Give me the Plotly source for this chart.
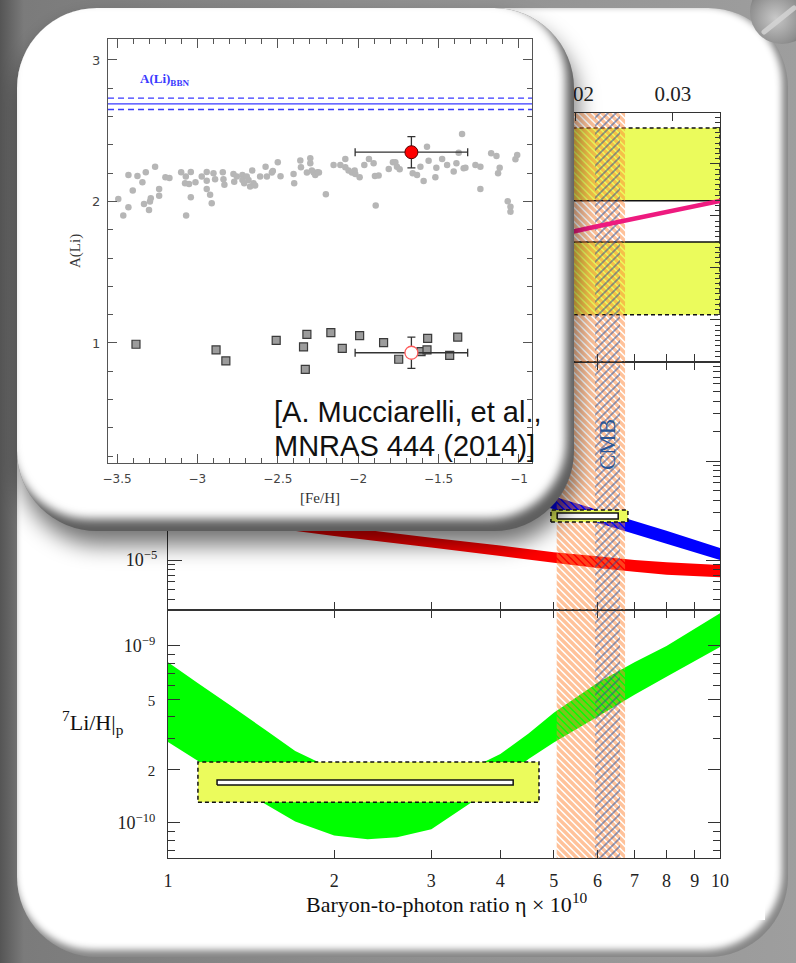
import base64
import plotly.graph_objects as go

# ---------------- BBN predictions versus eta (x 1e10) ----------------
# 7Li/H band (bottom panel)
eta_li = [1.0, 1.13, 1.3, 1.5, 1.7, 2.0, 2.3, 2.6, 3.0, 3.5, 4.0, 4.5, 5.0, 6.0, 7.0, 8.0, 10.0]
li_hi = [8.1e-10, 6.2e-10, 4.6e-10, 3.36e-10, 2.55e-10, 2.0e-10, 1.82e-10, 1.78e-10, 1.82e-10,
         2.0e-10, 2.45e-10, 3.2e-10, 4.2e-10, 6.2e-10, 8.1e-10, 1.0e-9, 1.53e-9]
li_lo = [2.87e-10, 2.25e-10, 1.70e-10, 1.28e-10, 1.02e-10, 8.5e-11, 8.1e-11, 8.3e-11, 9.2e-11,
         1.27e-10, 1.72e-10, 2.3e-10, 2.85e-10, 3.98e-10, 5.3e-10, 6.7e-10, 9.87e-10]

# D/H and 3He/H bands (middle panel), Yp (top panel)
eta_grid = [1, 2, 3, 4, 5, 6, 7, 8, 10]
dh_hi = [6.8e-4, 2.09e-4, 1.05e-4, 6.4e-5, 4.39e-5, 3.22e-5, 2.48e-5, 1.97e-5, 1.32e-5]
dh_lo = [5.0e-4, 1.54e-4, 7.7e-5, 4.74e-5, 3.25e-5, 2.38e-5, 1.83e-5, 1.46e-5, 1.0e-5]
he3_hi = [3.6e-5, 2.2e-5, 1.68e-5, 1.4e-5, 1.2e-5, 1.09e-5, 1.0e-5, 9.5e-6, 8.9e-6]
he3_lo = [2.9e-5, 1.75e-5, 1.34e-5, 1.1e-5, 9.4e-6, 8.3e-6, 7.6e-6, 7.1e-6, 6.7e-6]
yp_pred = [0.2290, 0.2370, 0.2410, 0.2440, 0.2462, 0.2480, 0.2495, 0.2508, 0.2529]

# observed abundances: systematic (yellow) and statistical (white) boxes
yp_box_eta = [1.0, 10.0]
yp_sys = [0.2310, 0.2669]
yp_stat = [0.2450, 0.2529]
dh_box_eta = [4.94, 6.81]
dh_sys = [2.42e-5, 3.20e-5]
dh_stat_eta = [5.07, 6.54]
dh_stat = [2.60e-5, 2.98e-5]
li_box_eta = [1.133, 4.70]
li_sys = [1.31e-10, 2.21e-10]
li_stat_eta = [1.227, 4.22]
li_stat = [1.64e-10, 1.75e-10]

# concordance range and CMB range in eta
bbn_eta = [5.06, 6.73]
cmb_eta = [5.94, 6.59]

# Omega_b h^2 scale on the upper axis
omega_ticks = [0.01, 0.02, 0.03]

# ---------------- inset: A(Li) versus [Fe/H] ----------------
field_feh = [-3.492, -3.461, -3.429, -3.429, -3.402, -3.373, -3.342, -3.332, -3.321, -3.301,
             -3.295, -3.290, -3.263, -3.238, -3.238, -3.199, -3.174, -3.101, -3.072, -3.077,
             -3.070, -3.052, -3.041, -3.041, -3.012, -2.973, -2.942, -2.942, -2.942, -2.921,
             -2.911, -2.900, -2.890, -2.842, -2.838, -2.832, -2.776, -2.771, -2.755, -2.720,
             -2.720, -2.709, -2.693, -2.682, -2.672, -2.659, -2.651, -2.641, -2.610, -2.576,
             -2.568, -2.537, -2.531, -2.500, -2.483, -2.402, -2.398, -2.360, -2.356, -2.319,
             -2.298, -2.298, -2.288, -2.277, -2.267, -2.253, -2.244, -2.201, -2.153, -2.111,
             -2.080, -2.080, -2.060, -2.039, -2.022, -2.018, -1.991, -1.962, -1.933, -1.904,
             -1.896, -1.891, -1.873, -1.810, -1.784, -1.769, -1.759, -1.742, -1.661, -1.634,
             -1.613, -1.593, -1.572, -1.562, -1.520, -1.514, -1.478, -1.447, -1.406, -1.389,
             -1.375, -1.354, -1.344, -1.333, -1.271, -1.240, -1.240, -1.173, -1.140, -1.130,
             -1.120, -1.070, -1.053, -1.053, -1.022, -1.011]
field_ali = [2.018, 1.900, 1.959, 2.187, 2.077, 2.180, 2.135, 1.982, 2.206, 1.940,
             1.999, 2.022, 2.246, 2.088, 2.041, 2.171, 2.166, 2.206, 2.176, 2.128,
             1.900, 2.124, 2.208, 2.029, 2.135, 2.176, 2.208, 2.147, 2.088, 2.048,
             1.987, 2.199, 2.157, 2.206, 2.157, 2.119, 2.194, 2.140, 2.176, 2.187,
             2.152, 2.128, 2.176, 2.152, 2.105, 2.218, 2.128, 2.112, 2.176, 2.246,
             2.176, 2.204, 2.216, 2.277, 2.178, 2.194, 2.128, 2.289, 2.241, 2.204,
             2.305, 2.270, 2.218, 2.204, 2.187, 2.206, 2.204, 2.051, 2.258, 2.258,
             2.300, 2.241, 2.218, 2.204, 2.218, 2.194, 2.171, 2.258, 2.300, 2.270,
             2.180, 1.971, 2.183, 2.230, 2.277, 2.277, 2.246, 2.227, 2.199, 2.187,
             2.246, 2.145, 2.387, 2.288, 2.171, 2.239, 2.300, 2.258, 2.211, 2.270,
             2.345, 2.477, 2.235, 2.239, 2.258, 2.246, 2.088, 2.341, 2.322, 2.199,
             2.239, 2.001, 1.963, 1.928, 2.298, 2.329]
giant_feh = [-3.382, -2.884, -2.823, -2.510, -2.340, -2.319, -2.329, -2.170, -2.099, -1.991,
             -1.842, -1.748, -1.609, -1.572, -1.568, -1.431, -1.381]
giant_ali = [0.991, 0.951, 0.873, 1.019, 0.972, 1.061, 0.814, 1.073, 0.962, 1.052,
             1.002, 0.885, 0.939, 0.951, 1.033, 0.913, 1.042]
cluster_feh = [-1.669]
cluster_feh_err = [0.35]
cluster_dwarf_ali = [2.348]
cluster_giant_ali = [0.931]
cluster_ali_err = [0.11]
ali_bbn = 2.69
ali_bbn_err = 0.04

# ---------------- page geometry (pixels) ----------------
W, H = 796, 963
X0, X1 = 168, 720
Y_TOP, Y_12, Y_23, Y_BOT = 113, 362, 610, 858
IN_L, IN_R, IN_T, IN_B = 108, 532, 39, 463


def xdom(a, b):
    return [a / W, b / W]


def ydom(top, bot):
    return [(H - bot) / H, (H - top) / H]


SERIF = "Liberation Serif, Times New Roman, serif"
SANS = "Liberation Sans, Arial, sans-serif"
ORANGE = "#ff8636"
CMBBLUE = "#1f4c9c"
YELLOW = "#ebfb5c"
# hatch tiles sized to whole pixels (tile edge = size * sqrt(2))
ORANGE_TILE = 7 / 2 ** 0.5
BLUE_TILE = 8 / 2 ** 0.5

fig = go.Figure()


def band(xs, hi, lo):
    return list(xs) + list(xs)[::-1] + [xs[0]], list(hi) + list(lo)[::-1] + [hi[0]]


def rect(xr, yr):
    return [xr[0], xr[1], xr[1], xr[0], xr[0]], [yr[0], yr[0], yr[1], yr[1], yr[0]]


def fill_poly(xs, ys, xa, ya, color, line=None):
    fig.add_trace(go.Scatter(
        x=xs, y=ys, xaxis=xa, yaxis=ya, fill="toself", fillcolor=color,
        mode="lines" if line else "none", line=line or dict(width=0),
        hoverinfo="skip", showlegend=False))


def add_hatches(xa, ya, ylo, yhi):
    bx, by = rect(bbn_eta, [ylo, yhi])
    fig.add_trace(go.Scatter(
        x=bx, y=by, xaxis=xa, yaxis=ya, mode="none", fill="toself",
        fillcolor="rgba(0,0,0,0)",
        fillpattern=dict(shape="\\", fgcolor=ORANGE, bgcolor="rgba(0,0,0,0)",
                         size=ORANGE_TILE, solidity=0.68),
        hoverinfo="skip", showlegend=False))
    cx, cy = rect(cmb_eta, [ylo, yhi])
    fig.add_trace(go.Scatter(
        x=cx, y=cy, xaxis=xa, yaxis=ya, mode="none", fill="toself",
        fillcolor="rgba(0,0,0,0)",
        fillpattern=dict(shape="/", fgcolor=CMBBLUE, bgcolor="rgba(0,0,0,0)",
                         size=BLUE_TILE, solidity=0.3),
        hoverinfo="skip", showlegend=False))


def add_boxes(xa, ya, sys_eta, sys_y, stat_eta, stat_y):
    sx, sy = rect(sys_eta, sys_y)
    fill_poly(sx, sy, xa, ya, YELLOW, dict(color="#111", width=1.5, dash="4px,3px"))
    ix, iy = rect(stat_eta, stat_y)
    fill_poly(ix, iy, xa, ya, "#ffffff", dict(color="#111", width=1.5))


# ---- bottom panel: 7Li/H ----
gx, gy = band(eta_li, li_hi, li_lo)
fill_poly(gx, gy, "x", "y", "#00ff00")
add_hatches("x", "y", 1e-11, 1e-8)
add_boxes("x", "y", li_box_eta, li_sys, li_stat_eta, li_stat)

# ---- middle panel: D/H and 3He/H ----
rx, ry = band(eta_grid, he3_hi, he3_lo)
fill_poly(rx, ry, "x2", "y2", "#ff0000")
bx, by = band(eta_grid, dh_hi, dh_lo)
fill_poly(bx, by, "x2", "y2", "#0000ff")
add_hatches("x2", "y2", 1e-6, 1e-2)
add_boxes("x2", "y2", dh_box_eta, dh_sys, dh_stat_eta, dh_stat)

# ---- top panel: Yp ----
add_boxes("x3", "y3", yp_box_eta, yp_sys, yp_box_eta, yp_stat)
add_hatches("x3", "y3", 0.20, 0.30)
fig.add_trace(go.Scatter(x=eta_grid, y=yp_pred, xaxis="x3", yaxis="y3", mode="lines",
                         line=dict(color="#ee1a7f", width=4.5), hoverinfo="skip", showlegend=False))
fig.add_trace(go.Scatter(x=[], y=[], xaxis="x5", yaxis="y3", showlegend=False))

# ---- inset: lithium in metal-poor stars ----
in_xr = [-3.556, -0.919]
in_yr = [0.152, 3.148]
for val, dash in [(ali_bbn, "solid"), (ali_bbn + ali_bbn_err, "6px,4px"), (ali_bbn - ali_bbn_err, "6px,4px")]:
    fig.add_trace(go.Scatter(x=in_xr, y=[val, val], xaxis="x4", yaxis="y4", mode="lines",
                             line=dict(color="#3a3aff", width=1.3, dash=dash),
                             hoverinfo="skip", showlegend=False))
fig.add_trace(go.Scatter(x=field_feh, y=field_ali, xaxis="x4", yaxis="y4", mode="markers",
                         marker=dict(size=6.5, color="#b6b6b6"), hoverinfo="skip", showlegend=False))
fig.add_trace(go.Scatter(x=giant_feh, y=giant_ali, xaxis="x4", yaxis="y4", mode="markers",
                         marker=dict(symbol="square", size=8, color="#9c9c9c",
                                     line=dict(color="#3a3a3a", width=1.2)),
                         hoverinfo="skip", showlegend=False))
err_style = dict(type="data", thickness=1.3, width=4, color="#333")
fig.add_trace(go.Scatter(x=cluster_feh, y=cluster_dwarf_ali, xaxis="x4", yaxis="y4", mode="markers",
                         error_x=dict(array=cluster_feh_err, **err_style),
                         error_y=dict(array=cluster_ali_err, **err_style),
                         marker=dict(size=13, color="#ff0000", line=dict(color="#550000", width=1)),
                         hoverinfo="skip", showlegend=False))
fig.add_trace(go.Scatter(x=cluster_feh, y=cluster_giant_ali, xaxis="x4", yaxis="y4", mode="markers",
                         error_x=dict(array=cluster_feh_err, **err_style),
                         error_y=dict(array=cluster_ali_err, **err_style),
                         marker=dict(size=13, color="#ffffff", line=dict(color="#ff5a5a", width=1.3)),
                         hoverinfo="skip", showlegend=False))

# ---------------- axes ----------------
ax_line = dict(showgrid=False, zeroline=False, showline=True, linecolor="#333", linewidth=1.3,
               ticks="inside", tickcolor="#333", tickwidth=1.2, automargin=False)
eta_ticks = list(range(1, 11))
xbase = dict(type="log", range=[0, 1], domain=xdom(X0, X1), tickmode="array", tickvals=eta_ticks,
             ticktext=[str(v) for v in eta_ticks], ticklen=8, **ax_line)

small = '<span style="font-size:15px">{}</span>'
li_major = [1e-10, 2e-10, 5e-10, 1e-9]
li_major_text = ["10<sup>−10</sup>", small.format(2), small.format(5), "10<sup>−9</sup>"]
li_minor = [7e-11, 8e-11, 9e-11, 3e-10, 4e-10, 6e-10, 7e-10, 8e-10, 9e-10]
mid_major = [1e-5, 1e-4, 1e-3]
mid_major_text = ["10<sup>−5</sup>", "10<sup>−4</sup>", "10<sup>−3</sup>"]
mid_minor = [m * d for d in (1e-6, 1e-5, 1e-4) for m in range(2, 10)]

yfont = dict(family=SERIF, size=18, color="#222")
inset_ax = dict(showgrid=False, zeroline=False, showline=True, linecolor="#555", linewidth=1.2,
                ticks="inside", tickcolor="#555", tickwidth=1.1, mirror="ticks", automargin=False,
                ticklabelstandoff=4)

fig.update_layout(
    width=W, height=H, autosize=False,
    margin=dict(l=0, r=0, t=0, b=0, pad=0, autoexpand=False),
    paper_bgcolor="#8e8e8e", plot_bgcolor="rgba(0,0,0,0)",
    showlegend=False, hovermode=False,
    xaxis=dict(xbase, anchor="y", mirror="ticks", tickfont=dict(family=SERIF, size=18, color="#222"),
               ticklabelstandoff=6),
    xaxis2=dict(xbase, anchor="y2", mirror="ticks", showticklabels=False),
    xaxis3=dict(xbase, anchor="y3", mirror=False, showticklabels=False),
    xaxis5=dict(type="log", range=[0, 1], overlaying="x3", anchor="y3", side="top",
                tickmode="array", tickvals=[273.9 * w for w in omega_ticks],
                ticktext=[f"{w:.2f}" for w in omega_ticks], ticklen=8,
                tickfont=dict(family=SERIF, size=21, color="#222"), ticklabelstandoff=2, **ax_line),
    yaxis=dict(type="log", range=[-10.198, -8.797], domain=ydom(Y_23, Y_BOT), anchor="x",
               tickmode="array", tickvals=li_major, ticktext=li_major_text, ticklen=12,
               minor=dict(tickmode="array", tickvals=li_minor, ticklen=7, ticks="inside",
                          tickcolor="#333", tickwidth=1.2),
               mirror="ticks", tickfont=yfont, ticklabelstandoff=8, **ax_line),
    yaxis2=dict(type="log", range=[-5.505, -3.0], domain=ydom(Y_12, Y_23), anchor="x2",
                tickmode="array", tickvals=mid_major, ticktext=mid_major_text, ticklen=14,
                minor=dict(tickmode="array", tickvals=mid_minor, ticklen=7, ticks="inside",
                           tickcolor="#333", tickwidth=1.2),
                mirror="ticks", tickfont=yfont, ticklabelstandoff=6, **ax_line),
    yaxis3=dict(range=[0.2219, 0.2698], domain=ydom(Y_TOP, Y_12), anchor="x3",
                tick0=0, dtick=0.01, ticklen=10, showticklabels=False,
                minor=dict(dtick=0.001, ticklen=5, ticks="inside", tickcolor="#333", tickwidth=1),
                mirror="ticks", **ax_line),
    xaxis4=dict(inset_ax, range=in_xr, domain=xdom(IN_L, IN_R), anchor="y4", tick0=0, dtick=0.5,
                ticklen=9,
                minor=dict(dtick=0.1, ticklen=5, ticks="inside", tickcolor="#555", tickwidth=1),
                tickfont=dict(family="DejaVu Sans, sans-serif", size=12, color="#444")),
    yaxis4=dict(inset_ax, range=in_yr, domain=ydom(IN_T, IN_B), anchor="x4", tick0=0, dtick=1,
                ticklen=9,
                minor=dict(dtick=0.2, ticklen=5, ticks="inside", tickcolor="#555", tickwidth=1),
                tickfont=dict(family="DejaVu Sans, sans-serif", size=13, color="#444")),
)

# ---------------- decorative backdrop and inset card ----------------
bg_svg = f'''<svg xmlns="http://www.w3.org/2000/svg" width="{W}" height="{H}" viewBox="0 0 {W} {H}" preserveAspectRatio="none">
<defs>
<linearGradient id="g" x1="0" y1="0" x2="1" y2="0">
<stop offset="0" stop-color="#555555"/><stop offset="0.03" stop-color="#7b7b7b"/>
<stop offset="0.5" stop-color="#8f8f8f"/><stop offset="1" stop-color="#9e9e9e"/></linearGradient>
<radialGradient id="s" cx="0.4" cy="0.6" r="0.7"><stop offset="0" stop-color="#c8c8c8"/>
<stop offset="0.6" stop-color="#8e8e8e"/><stop offset="1" stop-color="#4a4a4a"/></radialGradient>
<filter id="b" x="-5%" y="-5%" width="110%" height="110%"><feGaussianBlur stdDeviation="3.5"/></filter>
<clipPath id="c"><rect x="17" y="8" width="771" height="949" rx="80"/></clipPath>
</defs>
<rect width="{W}" height="{H}" fill="url(#g)"/>
<rect x="17" y="8" width="771" height="949" rx="80" fill="#868686"/>
<g clip-path="url(#c)"><rect x="15" y="6" width="767" height="944" rx="78" fill="#ffffff" filter="url(#b)"/></g>
<rect x="53" y="50" width="712" height="870" fill="#ffffff"/>
<circle cx="782" cy="12" r="32" fill="url(#s)"/>
<path d="M764,32 L794,8" stroke="#d6d6d6" stroke-width="5" stroke-linecap="round" opacity="0.8"/>
</svg>'''

card_w, card_h = 620, 600
card_svg = f'''<svg xmlns="http://www.w3.org/2000/svg" width="{card_w}" height="{card_h}" viewBox="0 0 {card_w} {card_h}" preserveAspectRatio="none">
<defs>
<filter id="sh" x="-10%" y="-10%" width="120%" height="130%"><feGaussianBlur stdDeviation="11"/></filter>
<filter id="b" x="-5%" y="-5%" width="110%" height="110%"><feGaussianBlur stdDeviation="5"/></filter>
<clipPath id="c"><rect x="17" y="8" width="557" height="523" rx="80"/></clipPath>
</defs>
<rect x="20" y="22" width="557" height="523" rx="80" fill="#000" fill-opacity="0.55" filter="url(#sh)"/>
<rect x="17" y="8" width="557" height="523" rx="80" fill="#5e5e5e"/>
<g clip-path="url(#c)"><rect x="11" y="1" width="555" height="518" rx="78" fill="#ffffff" filter="url(#b)"/></g>
</svg>'''


def svg_uri(s):
    return "data:image/svg+xml;base64," + base64.b64encode(s.encode("utf-8")).decode("ascii")


in_w, in_h = IN_R - IN_L, IN_B - IN_T
fig.update_layout(images=[
    dict(source=svg_uri(bg_svg), xref="paper", yref="paper", x=0, y=1, sizex=1, sizey=1,
         xanchor="left", yanchor="top", sizing="stretch", layer="below"),
    dict(source=svg_uri(card_svg), xref="x4 domain", yref="y4 domain",
         x=-IN_L / in_w, y=IN_B / in_h, sizex=card_w / in_w, sizey=card_h / in_h,
         xanchor="left", yanchor="top", sizing="stretch", layer="below"),
])

# ---------------- text ----------------
ann = [
    dict(text="CMB", x=607 / W, y=1 - 445 / H, textangle=-90,
         font=dict(family=SERIF, size=23, color="#2b5797")),
    dict(text="<sup>7</sup>Li/H|<sub>p</sub>", x=93 / W, y=1 - 722 / H,
         font=dict(family=SERIF, size=22, color="#111")),
    dict(text="Baryon-to-photon ratio η × 10<sup>10</sup>", x=447 / W, y=1 - 903 / H,
         font=dict(family=SERIF, size=22, color="#111")),
    dict(text="[Fe/H]", x=(IN_L + IN_R) / 2 / W, y=1 - 498 / H,
         font=dict(family=SERIF, size=15, color="#333")),
    dict(text="A(Li)", x=75 / W, y=1 - (IN_T + IN_B) / 2 / H, textangle=-90,
         font=dict(family=SERIF, size=15, color="#333")),
    dict(text="[A. Mucciarelli, et al.,", x=272 / W, y=1 - 412 / H, xanchor="left",
         font=dict(family=SANS, size=29, color="#111")),
    dict(text="MNRAS 444 (2014)]", x=272 / W, y=1 - 446 / H, xanchor="left",
         font=dict(family=SANS, size=29, color="#111")),
]
for a in ann:
    a.setdefault("xanchor", "center")
    a.update(xref="paper", yref="paper", yanchor="middle", showarrow=False)
ann.append(dict(text="<b>A(Li)</b><sub><b>BBN</b></sub>", x=-3.207, y=2.859, xref="x4", yref="y4",
                showarrow=False, font=dict(family=SERIF, size=13, color="#3a3aff")))
fig.update_layout(annotations=ann)

# the page body gets no default margin so the figure fills the window exactly
fig.write_html("out.html", post_script="document.body.style.margin='0px';")
